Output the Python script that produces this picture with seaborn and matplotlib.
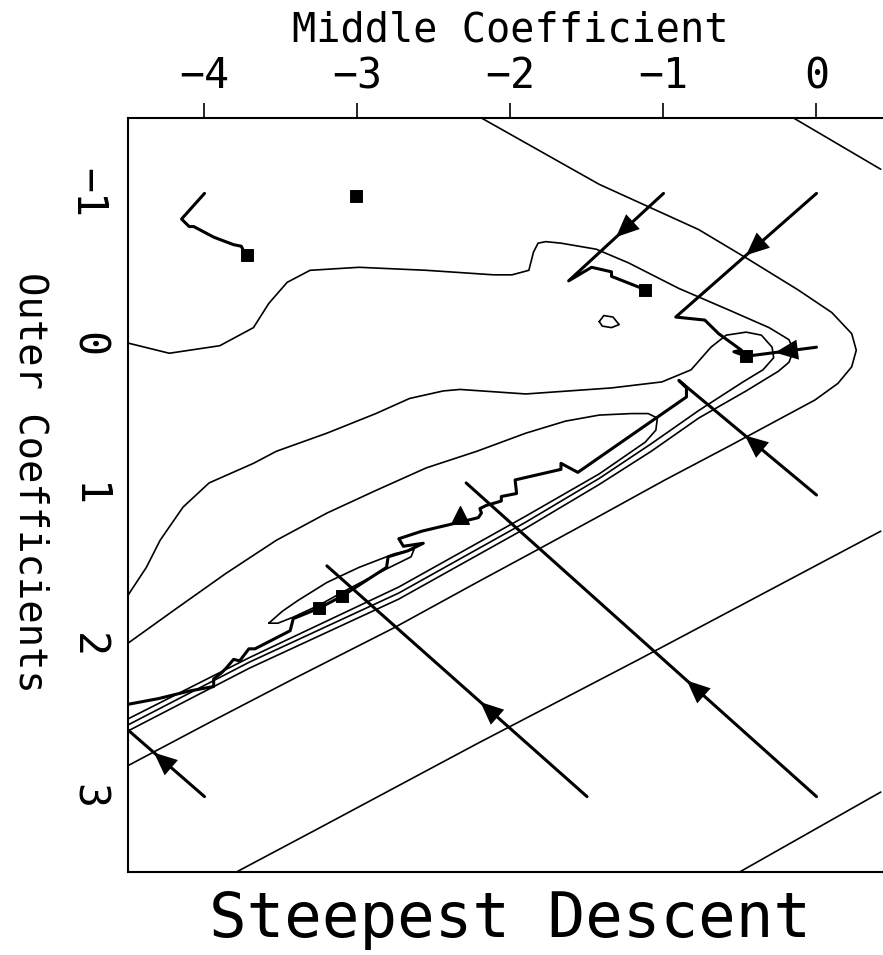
import numpy as np
import pandas as pd
import matplotlib
matplotlib.use("Agg")
import matplotlib.pyplot as plt
import seaborn as sns

# ---------------- data (data units) ----------------
x_ticks = [-4, -3, -2, -1, 0]
y_ticks = [-1, 0, 1, 2, 3]

# contour lines of the objective (each a polyline)
contour_a_x = [-4.51, -4.23, -3.90, -3.68, -3.58, -3.46, -3.31, -2.99, -2.55, -2.11, -1.99, -1.88, -1.85,
               -1.82, -1.77, -1.67, -1.44, -1.23, -0.90, -0.58, -0.31, -0.18, -0.15, -0.18, -0.25, -0.46,
               -0.77, -1.08, -1.42, -1.90, -2.73, -3.71, -4.51]
contour_a_y = [-0.01, 0.06, 0.01, -0.11, -0.27, -0.41, -0.49, -0.51, -0.49, -0.46, -0.46, -0.49, -0.61,
               -0.67, -0.68, -0.67, -0.63, -0.54, -0.37, -0.23, -0.11, -0.03, 0.04, 0.12, 0.18, 0.31,
               0.49, 0.71, 0.93, 1.22, 1.69, 2.15, 2.57]

contour_b_x = [-4.51, -4.38, -4.29, -4.14, -3.97, -3.68, -3.53, -3.20, -2.88, -2.66, -2.44, -2.33, -1.90,
               -1.34, -1.01, -0.82, -0.69, -0.59, -0.46, -0.36, -0.29, -0.28, -0.35, -0.48, -0.77, -1.08,
               -1.42, -1.90, -2.73, -3.71, -4.51]
contour_b_y = [1.68, 1.48, 1.30, 1.08, 0.92, 0.79, 0.71, 0.59, 0.46, 0.36, 0.31, 0.30, 0.33,
               0.29, 0.25, 0.17, 0.02, -0.06, -0.08, -0.06, 0.02, 0.09, 0.17, 0.25, 0.44, 0.66,
               0.89, 1.18, 1.65, 2.11, 2.53]

contour_c_x = [-4.51, -4.18, -3.86, -3.53, -3.20, -2.88, -2.55, -2.22, -1.90, -1.64, -1.42, -1.21, -1.10,
               -1.04, -1.05, -1.12, -1.42, -1.90, -2.73, -3.71, -4.51]
contour_c_y = [1.99, 1.75, 1.52, 1.30, 1.12, 0.97, 0.82, 0.71, 0.59, 0.51, 0.47, 0.46, 0.46,
               0.49, 0.57, 0.65, 0.86, 1.14, 1.61, 2.08, 2.49]

contour_d_x = [-3.58, -3.49, -3.39, -3.20, -2.99, -2.76, -2.63, -2.65, -2.73, -2.81, -3.09, -3.25, -3.42,
               -3.52, -3.58]
contour_d_y = [1.85, 1.77, 1.70, 1.58, 1.48, 1.39, 1.36, 1.41, 1.45, 1.49, 1.64, 1.73, 1.81, 1.85, 1.85]

contour_e_x = [-1.42, -1.39, -1.33, -1.29, -1.34, -1.40, -1.42]
contour_e_y = [-0.15, -0.19, -0.18, -0.13, -0.11, -0.12, -0.15]

contour_u_x = [-2.19, -1.42, -0.77, -0.44, -0.12, 0.10, 0.23, 0.26, 0.23, 0.14, -0.01, -0.23, -0.56,
               -0.99, -1.42, -1.80, -2.22, -2.76, -3.42, -3.97, -4.51]
contour_u_y = [-1.50, -1.06, -0.76, -0.56, -0.36, -0.21, -0.07, 0.04, 0.15, 0.26, 0.37, 0.49, 0.67,
               0.90, 1.14, 1.35, 1.58, 1.88, 2.22, 2.51, 2.80]

contour_v1_x = [-0.15, 0.42]
contour_v1_y = [-1.50, -1.16]
contour_v2_x = [-3.81, -3.29, -2.22, -1.16, 0.42]
contour_v2_y = [3.51, 3.23, 2.65, 2.09, 1.24]
contour_w_x = [-0.52, 0.42]
contour_w_y = [3.51, 2.97]

contours = [(contour_a_x, contour_a_y), (contour_b_x, contour_b_y), (contour_c_x, contour_c_y),
            (contour_d_x, contour_d_y), (contour_e_x, contour_e_y), (contour_u_x, contour_u_y),
            (contour_v1_x, contour_v1_y), (contour_v2_x, contour_v2_y), (contour_w_x, contour_w_y)]

# steepest-descent paths (first point = start)
path1_x = [0.0, -0.92, -0.73, -0.64, -0.49, -0.54, -0.46]
path1_y = [-1.0, -0.18, -0.16, -0.07, 0.04, 0.05, 0.08]
path2_x = [-1.0, -1.62, -1.47, -1.34, -1.34, -1.14, -1.12]
path2_y = [-1.0, -0.42, -0.51, -0.48, -0.45, -0.37, -0.36]
path3_x = [-4.0, -4.15, -4.10, -4.07, -3.94, -3.81, -3.76, -3.74, -3.72]
path3_y = [-1.0, -0.83, -0.78, -0.78, -0.71, -0.66, -0.65, -0.61, -0.59]
path5_x = [0.0, -0.46]
path5_y = [0.02, 0.08]
path6_x = [0.0, -0.90, -0.85, -0.85, -1.56, -1.67, -1.67, -1.97, -1.96, -2.06, -2.06, -2.16, -2.20,
           -2.19, -2.21, -2.29, -2.58, -2.73, -2.70, -2.57, -2.67, -2.80, -2.81, -3.10, -3.25, -3.42,
           -3.43, -3.44, -3.67, -3.71, -3.74, -3.77, -3.81, -3.86, -3.89, -3.94, -3.94, -4.10, -4.30, -4.51]
path6_y = [1.0, 0.24, 0.29, 0.35, 0.85, 0.79, 0.83, 0.90, 0.99, 1.01, 1.04, 1.07, 1.09,
           1.12, 1.15, 1.17, 1.24, 1.29, 1.34, 1.32, 1.37, 1.41, 1.48, 1.67, 1.75, 1.82,
           1.86, 1.90, 2.02, 2.02, 2.06, 2.10, 2.09, 2.15, 2.18, 2.22, 2.27, 2.30, 2.35, 2.39]
path7_x = [0.0, -2.29]
path7_y = [3.0, 0.92]
path8_x = [-1.50, -3.20]
path8_y = [3.0, 1.47]
path9_x = [-4.0, -4.60]
path9_y = [3.0, 2.47]

paths = [(path1_x, path1_y), (path2_x, path2_y), (path3_x, path3_y), (path5_x, path5_y),
         (path6_x, path6_y), (path7_x, path7_y), (path8_x, path8_y), (path9_x, path9_y)]

# arrowheads: (path index, fraction along the first segment where the tip sits)
arrow_path = [0, 1, 3, 4, 5, 6, 7]
arrow_frac = [0.50, 0.50, 0.59, 0.52, 0.37, 0.41, 0.55]

# end points (squares)
end_x = [-0.46, -1.12, -3.72, -3.01, -3.10, -3.25]
end_y = [0.08, -0.36, -0.59, -0.98, 1.67, 1.75]

# small arrowhead inside the valley
valley_arrow_x = [-2.33]
valley_arrow_y = [1.13]

# ---------------- figure ----------------
sns.set_theme(style="white")
plt.rcParams["font.family"] = ["DejaVu Sans Mono", "DejaVu Sans"]
plt.rcParams["text.color"] = "black"
plt.rcParams["axes.labelcolor"] = "black"
plt.rcParams["xtick.color"] = "black"
plt.rcParams["ytick.color"] = "black"

fig = plt.figure(figsize=(8.83, 9.55), dpi=100)
ax = fig.add_axes([0.14496, 0.08691, 0.86636, 0.78953])

for cx, cy in contours:
    sns.lineplot(x=cx, y=cy, sort=False, estimator=None, ax=ax, color="black", linewidth=1.2)

for px, py in paths:
    sns.lineplot(x=px, y=py, sort=False, estimator=None, ax=ax, color="black", linewidth=2.2)

for pi, f in zip(arrow_path, arrow_frac):
    px, py = paths[pi]
    x0, y0, x1, y1 = px[0], py[0], px[1], py[1]
    tip = (x0 + f * (x1 - x0), y0 + f * (y1 - y0))
    ax.annotate("", xy=tip, xytext=(x0, y0),
                arrowprops=dict(arrowstyle="-|>,head_length=0.75,head_width=0.33",
                                mutation_scale=22, color="black", lw=0,
                                shrinkA=0, shrinkB=0))

sns.scatterplot(x=end_x, y=end_y, marker="s", s=70, color="black", edgecolor="black", ax=ax, zorder=5)
sns.scatterplot(x=valley_arrow_x, y=valley_arrow_y, marker="^", s=160, color="black",
                edgecolor="black", ax=ax, zorder=5)

ax.set_xlim(-4.5, 0.5)
ax.set_ylim(3.5, -1.5)
ax.set_xticks(x_ticks)
ax.set_yticks(y_ticks)
ax.xaxis.tick_top()
ax.tick_params(axis="x", direction="out", length=11, width=1.2, pad=4, labelsize=30,
               colors="black", labelcolor="black")
ax.tick_params(axis="y", direction="out", length=11, width=1.2, pad=3, labelsize=30,
               colors="black", labelcolor="black", labelrotation=-90)
for lab in ax.get_yticklabels():
    lab.set_va("center")

for side in ["top", "left", "bottom"]:
    ax.spines[side].set_visible(True)
    ax.spines[side].set_color("black")
    ax.spines[side].set_linewidth(1.5)
ax.spines["right"].set_visible(False)

ax.xaxis.set_label_position("top")
ax.set_xlabel("Middle Coefficient", fontsize=29, va="center", ha="center", color="black")
ax.xaxis.set_label_coords(0.5, 1.1167)
ax.set_ylabel("Outer Coefficients", fontsize=28, rotation=-90, va="center", ha="center", color="black")
ax.yaxis.set_label_coords(-0.128, 0.517)

ax.text(0.5, -0.0637, "Steepest Descent", transform=ax.transAxes, fontsize=45,
        ha="center", va="center", color="black")

fig.savefig("out.png", dpi=100, facecolor="white")
